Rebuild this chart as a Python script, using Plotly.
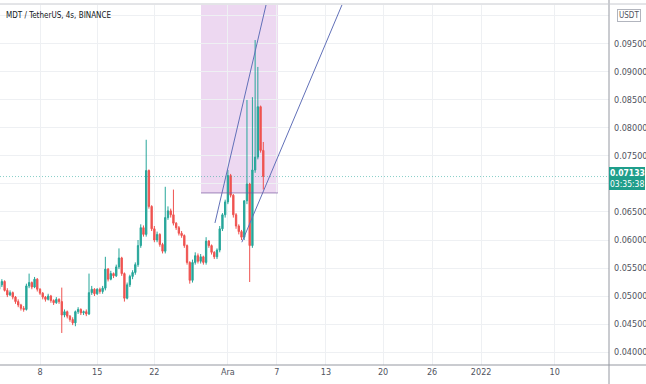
import plotly.graph_objects as go
import pandas as pd

# ---- data (8h candles) ----
candle_start = "2021-11-03 00:00"
opens = [0.0512, 0.0520, 0.0526, 0.0510, 0.0502, 0.0506, 0.0498, 0.0490, 0.0484, 0.0478,
         0.0476, 0.0518, 0.0524, 0.0516, 0.0530, 0.0512, 0.0505, 0.0498, 0.0494, 0.0500,
         0.0492, 0.0488, 0.0494, 0.0490, 0.0466, 0.0472, 0.0464, 0.0458, 0.0452, 0.0472,
         0.0476, 0.0470, 0.0472, 0.0468, 0.0506, 0.0512, 0.0504, 0.0512, 0.0508, 0.0514,
         0.0548, 0.0530, 0.0540, 0.0536, 0.0552, 0.0568, 0.0540, 0.0496, 0.0520, 0.0535,
         0.0542, 0.0556, 0.0590, 0.0622, 0.0610, 0.0724, 0.0660, 0.0620, 0.0600, 0.0610,
         0.0592, 0.0580, 0.0640, 0.0652, 0.0645, 0.0630, 0.0622, 0.0612, 0.0608, 0.0590,
         0.0560, 0.0528, 0.0560, 0.0572, 0.0562, 0.0570, 0.0560, 0.0598, 0.0590, 0.0578,
         0.0570, 0.0582, 0.0620, 0.0645, 0.0668, 0.0715, 0.0680, 0.0645, 0.0625, 0.0615,
         0.0605, 0.0670, 0.0700, 0.0590, 0.0725, 0.0748, 0.0838, 0.0760]
highs = [0.0524, 0.0530, 0.0528, 0.0514, 0.0510, 0.0508, 0.0500, 0.0494, 0.0486, 0.0482,
         0.0522, 0.0540, 0.0526, 0.0534, 0.0532, 0.0514, 0.0507, 0.0500, 0.0504, 0.0502,
         0.0494, 0.0498, 0.0496, 0.0515, 0.0476, 0.0474, 0.0466, 0.0462, 0.0474, 0.0480,
         0.0478, 0.0474, 0.0476, 0.0540, 0.0518, 0.0514, 0.0514, 0.0515, 0.0518, 0.0570,
         0.0550, 0.0545, 0.0542, 0.0556, 0.0585, 0.0570, 0.0542, 0.0524, 0.0538, 0.0546,
         0.0560, 0.0600, 0.0628, 0.0626, 0.0779, 0.0726, 0.0662, 0.0625, 0.0615, 0.0612,
         0.0595, 0.0695, 0.0660, 0.0656, 0.0690, 0.0632, 0.0625, 0.0616, 0.0610, 0.0592,
         0.0562, 0.0565, 0.0578, 0.0576, 0.0575, 0.0572, 0.0605, 0.0600, 0.0592, 0.0580,
         0.0585, 0.0625, 0.0648, 0.0672, 0.0725, 0.0718, 0.0682, 0.0648, 0.0628, 0.0618,
         0.0665, 0.0850, 0.0702, 0.0855, 0.0957, 0.0909, 0.0840, 0.0775]
lows = [0.0508, 0.0516, 0.0508, 0.0498, 0.0500, 0.0494, 0.0486, 0.0480, 0.0474, 0.0472,
        0.0474, 0.0514, 0.0512, 0.0514, 0.0508, 0.0502, 0.0494, 0.0490, 0.0492, 0.0488,
        0.0484, 0.0486, 0.0486, 0.0434, 0.0462, 0.0460, 0.0454, 0.0448, 0.0446, 0.0468,
        0.0466, 0.0466, 0.0464, 0.0466, 0.0502, 0.0500, 0.0502, 0.0504, 0.0504, 0.0510,
        0.0526, 0.0528, 0.0532, 0.0534, 0.0548, 0.0536, 0.0490, 0.0494, 0.0516, 0.0530,
        0.0538, 0.0552, 0.0586, 0.0606, 0.0606, 0.0656, 0.0616, 0.0596, 0.0596, 0.0588,
        0.0576, 0.0576, 0.0636, 0.0640, 0.0626, 0.0618, 0.0608, 0.0604, 0.0586, 0.0556,
        0.0522, 0.0524, 0.0556, 0.0558, 0.0558, 0.0556, 0.0556, 0.0586, 0.0574, 0.0566,
        0.0566, 0.0578, 0.0616, 0.0640, 0.0664, 0.0676, 0.0640, 0.0620, 0.0610, 0.0600,
        0.0600, 0.0664, 0.0525, 0.0586, 0.0720, 0.0744, 0.0756, 0.0690]
closes = [0.0520, 0.0526, 0.0510, 0.0502, 0.0506, 0.0498, 0.0490, 0.0484, 0.0478, 0.0476,
          0.0518, 0.0524, 0.0516, 0.0530, 0.0512, 0.0505, 0.0498, 0.0494, 0.0500, 0.0492,
          0.0488, 0.0494, 0.0490, 0.0466, 0.0472, 0.0464, 0.0458, 0.0452, 0.0472, 0.0476,
          0.0470, 0.0472, 0.0468, 0.0506, 0.0512, 0.0504, 0.0512, 0.0508, 0.0514, 0.0548,
          0.0530, 0.0540, 0.0536, 0.0552, 0.0568, 0.0540, 0.0496, 0.0520, 0.0535, 0.0542,
          0.0556, 0.0590, 0.0622, 0.0610, 0.0724, 0.0660, 0.0620, 0.0600, 0.0610, 0.0592,
          0.0580, 0.0640, 0.0652, 0.0645, 0.0630, 0.0622, 0.0612, 0.0608, 0.0590, 0.0560,
          0.0528, 0.0560, 0.0572, 0.0562, 0.0570, 0.0560, 0.0598, 0.0590, 0.0578, 0.0570,
          0.0582, 0.0620, 0.0645, 0.0668, 0.0715, 0.0680, 0.0645, 0.0625, 0.0615, 0.0605,
          0.0670, 0.0700, 0.0590, 0.0725, 0.0748, 0.0838, 0.0760, 0.07133]

last_price = 0.07133
countdown = "03:35:38"

# drawings
rect_x = ["2021-11-27 17:00", "2021-12-07 03:00"]
rect_y = [0.0684, 0.1100]
line1_x = ["2021-11-29 10:00", "2021-12-05 16:00"]
line1_y = [0.06304, 0.10196]
line2_x = ["2021-12-02 17:00", "2021-12-14 23:00"]
line2_y = [0.0596, 0.10196]

x_tick_dates = ["2021-11-08", "2021-11-15", "2021-11-22", "2021-12-01", "2021-12-07",
                "2021-12-13", "2021-12-20", "2021-12-26", "2022-01-01", "2022-01-10"]
x_tick_text = ["8", "15", "22", "Ara", "7", "13", "20", "26", "2022", "10"]
y_ticks = [0.040, 0.045, 0.050, 0.055, 0.060, 0.065, 0.070, 0.075, 0.080, 0.085, 0.090, 0.095, 0.100]
y_hidden = [0.070, 0.100]  # labels covered by the price tag / currency badge

x_range = ["2021-11-03 02:30", "2022-01-16 15:36"]
y_range = [0.03768, 0.10196]

# ---- figure ----
times = pd.date_range(candle_start, periods=len(closes), freq="8h")
FONT = "Liberation Sans Narrow, DejaVu Sans Condensed, Roboto, Arial"
UP, DN = "#26a69a", "#ef5350"
W, H = 646, 384
ML, MR, MT, MB = 0, 37, 5, 19
PW, PH = W - ML - MR, H - MT - MB

def px(xp):
    return (xp - ML) / PW

def py(yp):
    return (H - MB - yp) / PH

fig = go.Figure()
fig.add_trace(go.Candlestick(
    x=times, open=opens, high=highs, low=lows, close=closes,
    increasing=dict(line=dict(color=UP, width=1), fillcolor=UP),
    decreasing=dict(line=dict(color=DN, width=1), fillcolor=DN),
    whiskerwidth=0, hoverinfo="skip", showlegend=False,
))
for lx, ly in [(line1_x, line1_y), (line2_x, line2_y)]:
    fig.add_trace(go.Scatter(x=lx, y=ly, mode="lines",
                             line=dict(color="#6170b8", width=1),
                             hoverinfo="skip", showlegend=False))

shapes = [
    dict(type="rect", xref="x", yref="y", x0=rect_x[0], x1=rect_x[1], y0=rect_y[0], y1=rect_y[1],
         fillcolor="rgba(156,39,176,0.18)", line=dict(width=0), layer="below"),
    dict(type="line", xref="x", yref="y", x0=rect_x[0], x1=rect_x[1], y0=rect_y[0], y1=rect_y[0],
         line=dict(color="rgba(120,90,160,0.7)", width=1)),
    dict(type="line", xref="paper", yref="y", x0=0, x1=1, y0=last_price, y1=last_price,
         line=dict(color="rgba(38,166,154,0.55)", width=1, dash="1px,2px")),
    # axis frame lines
    dict(type="line", xref="paper", yref="paper", x0=1, x1=1, y0=py(H), y1=py(0),
         line=dict(color="#9598a1", width=1)),
    dict(type="line", xref="paper", yref="paper", x0=px(0), x1=px(W), y0=0, y1=0,
         line=dict(color="#9598a1", width=1)),
    dict(type="line", xref="paper", yref="paper", x0=px(0), x1=px(W), y0=py(4), y1=py(4),
         line=dict(color="#c8cad0", width=1)),
    # price label box
    dict(type="rect", xref="paper", yref="paper", x0=1, x1=px(W - 1), y0=py(190), y1=py(167),
         fillcolor="#1f9e8b", line=dict(width=0)),
]

annotations = [
    dict(text="MDT / TetherUS, 4s, BINANCE", xref="paper", yref="paper", x=px(4), y=py(15),
         xanchor="left", yanchor="middle", showarrow=False,
         font=dict(family=FONT, size=8, color="#131722")),
    dict(text="USDT", xref="paper", yref="paper", x=px(629), y=py(15),
         xanchor="center", yanchor="middle", showarrow=False, bgcolor="white",
         bordercolor="#b2b5be", borderwidth=1, borderpad=1,
         font=dict(family=FONT, size=8, color="#50535e")),
    dict(text=f"<b>{last_price:.5f}</b>", xref="paper", yref="paper", x=px(627), y=py(173),
         xanchor="center", yanchor="middle", showarrow=False,
         font=dict(family=FONT, size=8.5, color="white")),
    dict(text=countdown, xref="paper", yref="paper", x=px(627), y=py(184),
         xanchor="center", yanchor="middle", showarrow=False,
         font=dict(family=FONT, size=8.5, color="white")),
]

fig.update_layout(
    width=W, height=H, margin=dict(l=ML, r=MR, t=MT, b=MB),
    paper_bgcolor="white", plot_bgcolor="white",
    shapes=shapes, annotations=annotations, hovermode=False,
    xaxis=dict(range=x_range, rangeslider=dict(visible=False), tickmode="array",
               tickvals=x_tick_dates, ticktext=x_tick_text, showgrid=True,
               gridcolor="#eef0f3", gridwidth=1, zeroline=False, showline=False, ticks="",
               tickfont=dict(family=FONT, size=9, color="#50535e")),
    yaxis=dict(range=y_range, side="right", tickmode="array", tickvals=y_ticks,
               ticktext=["" if v in y_hidden else f"{v:.5f}" for v in y_ticks], showgrid=True,
               gridcolor="#eef0f3", gridwidth=1, zeroline=False, showline=False, ticks="",
               ticklabelstandoff=4,
               tickfont=dict(family=FONT, size=9, color="#50535e")),
)

fig.write_html("out.html")
